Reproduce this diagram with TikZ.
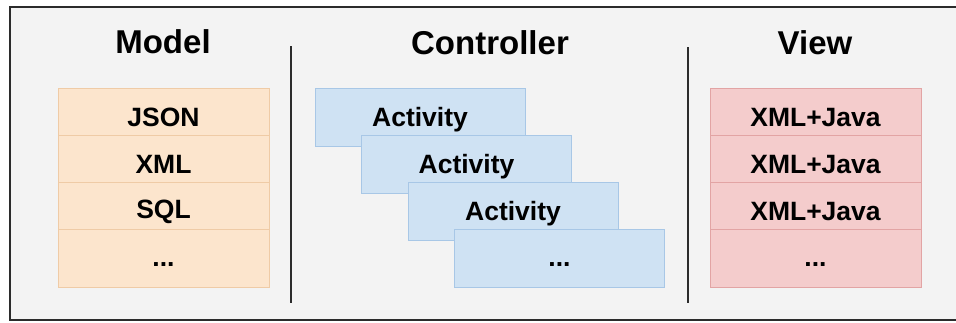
\documentclass[tikz,border=0pt]{standalone}
\usepackage{fontspec}
\setmainfont{Liberation Sans}
\definecolor{bgc}{HTML}{F3F3F3}
\definecolor{framec}{HTML}{2B2B2B}
\definecolor{orfill}{HTML}{FCE5CD}
\definecolor{ordraw}{HTML}{EFCBA6}
\definecolor{blfill}{HTML}{CFE2F3}
\definecolor{bldraw}{HTML}{A8C7E6}
\definecolor{rdfill}{HTML}{F4CCCC}
\definecolor{rddraw}{HTML}{E2A4A4}
\begin{document}
\begin{tikzpicture}[x=1pt,y=-1pt,
  title/.style={font=\fontsize{33}{40}\selectfont\bfseries, text=black},
  cell/.style={rectangle, inner sep=0pt, minimum width=211pt, minimum height=47pt, line width=1pt},
  lab/.style={font=\fontsize{26.5}{32}\selectfont\bfseries, text=black, inner sep=0pt},
  mcell/.style={cell, fill=orfill, draw=ordraw},
  vcell/.style={cell, fill=rdfill, draw=rddraw},
  acell/.style={cell, minimum height=58pt, minimum width=210pt, fill=blfill, draw=bldraw},
  sep/.style={draw=framec, line width=2.6pt}
]
\useasboundingbox (0,0) rectangle (956,322);
\begin{scope}
\clip (0,0) rectangle (956,322);
\fill[white] (0,0) rectangle (956,322);
\draw[draw=framec, fill=bgc, line width=2.4pt] (10,7) rectangle (962,320);
\end{scope}
% titles
\node[title] (tm) at (163,41.5) {Model};
\node[title] (tc) at (490,42.5) {Controller};
\node[title] (tv) at (815,42.5) {View};
% separators
\coordinate (s1a) at (291,46);
\coordinate (s1b) at (291,303);
\coordinate (s2a) at (688,47);
\coordinate (s2b) at (688,303);
\draw[sep] (s1a) -- (s1b);
\draw[sep] (s2a) -- (s2b);
% model
\node[mcell, label={[lab, yshift=-6pt]center:JSON}] (m1) at (163.5,111.5) {};
\node[mcell, label={[lab, yshift=-6pt]center:XML}] (m2) at (163.5,158.5) {};
\node[mcell, label={[lab, yshift=-6pt]center:SQL}] (m3) at (163.5,205.5) {};
\node[mcell, minimum height=58pt, label={[lab, yshift=-7pt]center:...}] (m4) at (163.5,258) {};
% controller
\node[acell, label={[lab, yshift=-3pt]center:Activity}] (a1) at (420,117) {};
\node[acell, label={[lab, yshift=-3pt]center:Activity}] (a2) at (466.5,164) {};
\node[acell, label={[lab, yshift=-3pt]center:Activity}] (a3) at (513,211) {};
\node[acell, label={[lab, yshift=-7pt]center:...}] (a4) at (559.5,258) {};
% view
\node[vcell, label={[lab, yshift=-6pt]center:XML+Java}] (v1) at (815.5,111.5) {};
\node[vcell, label={[lab, yshift=-6pt]center:XML+Java}] (v2) at (815.5,158.5) {};
\node[vcell, label={[lab, yshift=-6pt]center:XML+Java}] (v3) at (815.5,205.5) {};
\node[vcell, minimum height=58pt, label={[lab, yshift=-7pt]center:...}] (v4) at (815.5,258) {};
\end{tikzpicture}
\end{document}
